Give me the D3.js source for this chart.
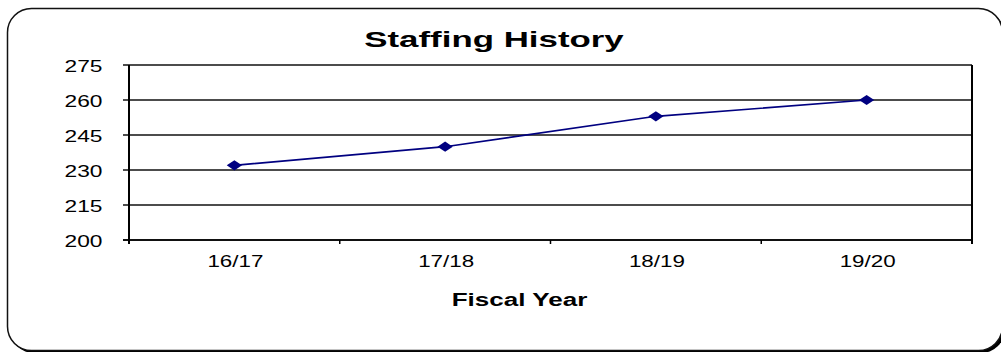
<!DOCTYPE html>
<html>
<head>
<meta charset="utf-8">
<script src="https://cdn.jsdelivr.net/npm/d3@7"></script>
<style>
  html, body { margin: 0; padding: 0; background: #fff; }
  svg { display: block; }
  text { font-family: "Liberation Sans", Arial, sans-serif; fill: #000; }
</style>
</head>
<body>
<svg id="chart" width="1001" height="352"></svg>
<script>
// Staffing levels by fiscal year
const fiscalYears = ["16/17", "17/18", "18/19", "19/20"];
const staffing = [232, 240, 253, 260];
const yTicks = [200, 215, 230, 245, 260, 275];
const chartTitle = "Staffing History";
const xAxisTitle = "Fiscal Year";

const svg = d3.select("#chart");
const plot = { left: 129, right: 972, top: 65, bottom: 240 };
const stretch = 1.45; // horizontal glyph stretch used throughout

// Rounded outer frame with a shadow at the bottom-right
const frame = { x: 7.5, y: 8.5, w: 995, h: 342, r: 24 };
svg.append("rect")
  .attr("x", frame.x + 2.5).attr("y", frame.y + 2.5)
  .attr("width", frame.w).attr("height", frame.h)
  .attr("rx", frame.r).attr("ry", frame.r)
  .attr("fill", "#000");
svg.append("rect")
  .attr("x", frame.x).attr("y", frame.y)
  .attr("width", frame.w).attr("height", frame.h)
  .attr("rx", frame.r).attr("ry", frame.r)
  .attr("fill", "#fff")
  .attr("stroke", "#111")
  .attr("stroke-width", 1.5);

const x = d3.scaleBand()
  .domain(fiscalYears)
  .range([plot.left, plot.right])
  .paddingInner(0).paddingOuter(0);

const y = d3.scaleLinear()
  .domain([d3.min(yTicks), d3.max(yTicks)])
  .range([plot.bottom, plot.top]);

// Horizontal gridlines
svg.append("g")
  .selectAll("line")
  .data(yTicks)
  .join("line")
  .attr("x1", plot.left - 6).attr("x2", plot.right)
  .attr("y1", d => y(d)).attr("y2", d => y(d))
  .attr("stroke", "#111")
  .attr("stroke-width", d => d === yTicks[0] ? 2 : 1.5);

// Y axis line and right plot edge
svg.append("line")
  .attr("x1", plot.left).attr("x2", plot.left)
  .attr("y1", plot.top).attr("y2", plot.bottom + 4)
  .attr("stroke", "#000").attr("stroke-width", 2);
svg.append("line")
  .attr("x1", plot.right).attr("x2", plot.right)
  .attr("y1", plot.top).attr("y2", plot.bottom + 4)
  .attr("stroke", "#000").attr("stroke-width", 2);

// Category boundary ticks on the x axis
const boundaries = fiscalYears.slice(1).map(c => x(c));
svg.append("g")
  .selectAll("line")
  .data(boundaries)
  .join("line")
  .attr("x1", d => d).attr("x2", d => d)
  .attr("y1", plot.bottom).attr("y2", plot.bottom + 4)
  .attr("stroke", "#000").attr("stroke-width", 1.5);

// Y tick labels
svg.append("g")
  .selectAll("text")
  .data(yTicks)
  .join("text")
  .attr("transform", d => `translate(102.5,${y(d) + 6.5}) scale(${stretch},1)`)
  .attr("text-anchor", "end")
  .attr("font-size", 15.7)
  .text(d => d);

// X tick labels
svg.append("g")
  .selectAll("text")
  .data(fiscalYears)
  .join("text")
  .attr("transform", d => `translate(${x(d) + x.bandwidth() / 2 + 1},266.5) scale(1.38,1)`)
  .attr("text-anchor", "middle")
  .attr("font-size", 16.2)
  .text(d => d);

// Titles
svg.append("text")
  .attr("transform", `translate(494,46.7) scale(1.57,1)`)
  .attr("text-anchor", "middle")
  .attr("font-size", 22.2)
  .attr("font-weight", "bold")
  .text(chartTitle);

svg.append("text")
  .attr("transform", `translate(519.5,306) scale(1.48,1)`)
  .attr("text-anchor", "middle")
  .attr("font-size", 17.6)
  .attr("font-weight", "bold")
  .text(xAxisTitle);

// Series line
const pts = fiscalYears.map((c, i) => [x(c) + x.bandwidth() / 2, y(staffing[i])]);
svg.append("path")
  .datum(pts)
  .attr("d", d3.line())
  .attr("fill", "none")
  .attr("stroke", "#000080")
  .attr("stroke-width", 1.6);

// Diamond markers
const diamond = d3.symbol().type(d3.symbolSquare).size(52);
svg.append("g")
  .selectAll("path")
  .data(pts)
  .join("path")
  .attr("d", diamond)
  .attr("transform", d => `translate(${d[0]},${d[1]}) scale(1.5,1) rotate(45)`)
  .attr("fill", "#000080");
</script>
</body>
</html>
